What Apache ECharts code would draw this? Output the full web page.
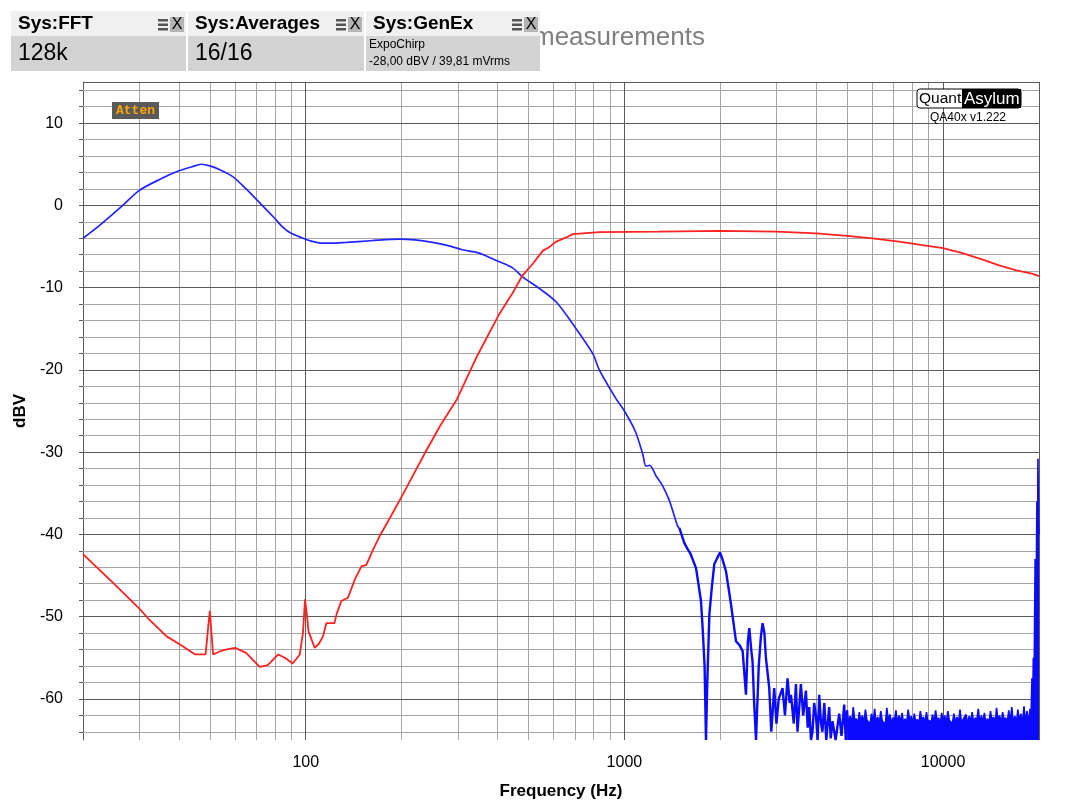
<!DOCTYPE html>
<html>
<head>
<meta charset="utf-8">
<script src="https://cdn.jsdelivr.net/npm/echarts@6/dist/echarts.min.js"></script>
<style>
html,body{margin:0;padding:0;background:#fff;}
#chartmain{width:1083px;height:812px;}
</style>
</head>
<body>
<div id="chartmain"></div>
<script>
// blue trace, smooth part (dBV vs Hz)
var blueFreq = [20,22.6,26.5,30,35,40,44,47,50,54,59,65,73,80,85,90,98,104,110,120,134,160,197,220,250,280,310,350,396,446,479,541,611,688,795,834,941,1000,1080,1141,1169,1200,1257,1318,1384,1469,1487];
var blueDb = [-4.0,-2.4,-0.1,1.8,3.2,4.2,4.7,5.0,4.8,4.3,3.5,2.0,0.0,-1.6,-2.7,-3.4,-4.0,-4.35,-4.55,-4.6,-4.5,-4.3,-4.1,-4.2,-4.5,-4.9,-5.4,-5.8,-6.7,-7.6,-8.7,-10.1,-11.75,-14.4,-18.0,-20.0,-23.5,-25.0,-27.4,-30.2,-31.7,-31.6,-32.9,-34.1,-35.9,-39.0,-39.2];
// blue trace, 1.5k - 5k
var blueHfFreq = [1487,1540,1579,1610,1678,1739,1760,1785,1803,1820,1848,1880,1915,1960,1995,2030,2084,2160,2240,2300,2350,2380,2407,2440,2466,2500,2525,2550,2588,
  2640,2680,2714,2750,2780,2848,2890,2952,3000,3050,3135,3190,3251,3300,3332,3400,3454,3493,3579,3640,3712,3760,3802,3850,3893,3940,3990,4040,4087,4140,4183,4240,4300,4391,4440,4498,4600,4721,4800,4895,4950,5000];
var blueHfDb = [-39.2,-41.0,-41.8,-42.3,-44.1,-48.1,-51.4,-56,-65,-58,-49.7,-46.5,-43.6,-42.8,-42.2,-43.0,-44.5,-48.5,-53.0,-53.5,-54.2,-57,-59.5,-53,-51.4,-54,-55.5,-60,-65,
  -56,-52.5,-50.8,-52,-55,-58.7,-64,-58.7,-63,-60,-58.7,-62,-57.5,-60.5,-59.5,-63,-58.2,-64,-58.2,-62,-59,-63.5,-61,-65,-64,-60.5,-62,-65,-59.5,-63,-64,-60.5,-65,-61,-64.8,-62.7,-65,-61.8,-64.5,-60.7,-65,-61.4];
// blue trace, noise floor 5k - 20k (upper edge of the dense band)
var noiseFreq = [5000,5055,5110,5170,5225,5285,5340,5400,5460,5520,5580,5645,5705,5770,5835,5900,5965,6030,6100,6165,
  6235,6305,6375,6445,6515,6590,6660,6735,6810,6885,6960,7040,7115,7195,7275,7355,7435,7520,7600,7685,
  7770,7860,7945,8035,8120,8210,8300,8395,8485,8580,8675,8770,8870,8965,9065,9165,9270,9370,9475,9580,
  9685,9795,9900,10010,10120,10235,10350,10465,10580,10695,10815,10935,11055,11180,11300,11425,11555,11680,11810,11940,
  12075,12205,12340,12480,12615,12755,12900,13040,13185,13330,13480,13625,13780,13930,14085,14240,14400,14560,14720,14880,
  15045,15215,15380,15550,15725,15895,16075,16250,16430,16615,16800,16985,17170,17360,17555,17750,17945,18145,18345,18550,
  18755,18880,19000,19100,19200,19300,19450,19550,19700,19780,19850,19930,20000];
var noiseDb = [-61.4,-62.9,-62.1,-63.0,-61.0,-62.7,-62.4,-63.1,-61.6,-62.8,-62.0,-63.0,-61.3,-62.6,-62.5,-63.0,-61.8,-62.9,-61.2,-63.0,
  -62.2,-63.0,-61.5,-62.7,-62.6,-63.1,-61.1,-62.8,-61.9,-63.0,-62.3,-62.6,-61.4,-63.0,-62.0,-62.9,-61.7,-63.0,-62.4,-63.0,
  -61.3,-62.7,-62.1,-63.1,-61.8,-62.8,-62.5,-63.0,-61.5,-62.6,-62.2,-63.0,-61.6,-62.9,-62.6,-63.0,-61.9,-63.0,-61.4,-62.7,
  -62.3,-63.1,-61.7,-62.8,-62.0,-63.0,-61.5,-62.6,-62.4,-63.0,-61.8,-62.9,-62.2,-63.0,-61.3,-63.0,-62.5,-62.7,-61.9,-63.1,
  -62.1,-62.8,-61.6,-63.0,-62.3,-62.6,-61.2,-63.0,-62.0,-62.9,-61.7,-63.0,-62.4,-63.0,-61.5,-62.7,-62.2,-63.1,-61.1,-62.8,
  -62.0,-63.0,-61.6,-62.6,-62.3,-63.0,-61.4,-62.9,-61.0,-63.0,-62.1,-63.0,-61.3,-62.7,-61.8,-63.1,-60.9,-62.8,-61.5,-63.0,
  -61.2,-62.4,-57.5,-61.0,-55.0,-58.0,-43.0,-52.0,-36.0,-44.0,-30.8,-38.0,-40.0];

// red trace
var redFreq = [20,25,30,32,36.6,40.3,45,48.5,49.5,50,50.6,51.2,53.2,56,60,65,71.7,76,82,86,91,95.8,98,99.5,101,102,106.7,110,113.3,116,123,125,129.3,135.7,142.5,149.5,155,162,170.6,185,202,220,239,265,297,343,405,450,479,516,555,582,611,657,688,740,834,1284,2000,3000,4000,5000,6000,7278,8500,10000,11500,13325,15000,17000,19000,20000];
var redDb = [-42.4,-46.0,-49.0,-50.2,-52.4,-53.4,-54.6,-54.6,-51,-49.3,-52,-54.6,-54.3,-54.0,-53.8,-54.4,-56.1,-55.9,-54.6,-55.0,-55.7,-54.6,-52,-47.9,-50,-51.8,-53.8,-53.3,-52.4,-50.8,-50.8,-49.7,-48.1,-47.7,-45.5,-43.9,-43.7,-42.0,-40.2,-37.8,-35.1,-32.4,-29.8,-26.7,-23.7,-18.5,-13.2,-10.4,-8.5,-7.1,-5.5,-5.05,-4.4,-3.9,-3.5,-3.4,-3.25,-3.2,-3.1,-3.2,-3.4,-3.7,-4.0,-4.4,-4.8,-5.2,-5.8,-6.6,-7.3,-7.9,-8.3,-8.6];

// axes / grid values
var xLabelTicks = [100, 1000, 10000];
var xGridMajor = [100, 1000, 10000];
var xGridMinor = [30,40,50,60,70,80,90,200,300,400,500,600,700,800,900,2000,3000,4000,5000,6000,7000,8000,9000];
var yLabelTicks = [-60,-50,-40,-30,-20,-10,0,10];
var yGridMinor = [-64,-62,-58,-56,-54,-52,-48,-46,-44,-42,-38,-36,-34,-32,-28,-26,-24,-22,-18,-16,-14,-12,-8,-6,-4,-2,2,4,6,8,12,14];
var yMin = -65, yMax = 15;

function zip(a, b) {
  var out = [];
  for (var i = 0; i < a.length; i++) out.push([a[i], b[i]]);
  return out;
}

var FONT = 'Liberation Sans, Arial, sans-serif';
var minorC = '#a6a6a6', majorC = '#5a5a5a';

var gridLines = [];
xGridMinor.forEach(function(v){ gridLines.push({xAxis: v, lineStyle: {color: minorC}}); });
yGridMinor.forEach(function(v){ gridLines.push({yAxis: v, lineStyle: {color: minorC}}); });
xGridMajor.forEach(function(v){ gridLines.push({xAxis: v, lineStyle: {color: majorC}}); });
yLabelTicks.forEach(function(v){ gridLines.push({yAxis: v, lineStyle: {color: majorC}}); });
// frame top / right
gridLines.push({yAxis: yMax, lineStyle: {color: majorC}});
gridLines.push({xAxis: 20000, lineStyle: {color: majorC}});

var myChart = echarts.init(document.getElementById('chartmain'));

function box(x, w, head, body) {
  var g = [
    {type: 'rect', shape: {x: x, y: 11, width: w, height: 25}, style: {fill: '#f0f0f0'}, z: 10},
    {type: 'rect', shape: {x: x, y: 36, width: w, height: 35}, style: {fill: '#d3d3d3'}, z: 10},
    {type: 'text', x: x + 7, y: 24, style: {text: head, font: 'bold 19px ' + FONT, fill: '#000', textVerticalAlign: 'middle'}, z: 11},
    {type: 'rect', shape: {x: x + w - 28, y: 19, width: 10, height: 2.5}, style: {fill: '#555'}, z: 11},
    {type: 'rect', shape: {x: x + w - 28, y: 23.5, width: 10, height: 2.5}, style: {fill: '#555'}, z: 11},
    {type: 'rect', shape: {x: x + w - 28, y: 28, width: 10, height: 2.5}, style: {fill: '#555'}, z: 11},
    {type: 'rect', shape: {x: x + w - 16, y: 17, width: 14, height: 15}, style: {fill: '#b4b4b4'}, z: 11},
    {type: 'text', x: x + w - 9, y: 25, style: {text: 'X', font: '16px ' + FONT, fill: '#000', textAlign: 'center', textVerticalAlign: 'middle'}, z: 12}
  ];
  return g.concat(body);
}

var graphics = [
  {type: 'text', x: 533, y: 38, style: {text: 'measurements', font: '26px ' + FONT, fill: '#808080', textVerticalAlign: 'middle'}, z: 5}
];
graphics = graphics.concat(box(11, 175, 'Sys:FFT', [
  {type: 'text', x: 18, y: 54, style: {text: '128k', font: '23px ' + FONT, fill: '#000', textVerticalAlign: 'middle'}, z: 11}
]));
graphics = graphics.concat(box(188, 176, 'Sys:Averages', [
  {type: 'text', x: 195, y: 54, style: {text: '16/16', font: '23px ' + FONT, fill: '#000', textVerticalAlign: 'middle'}, z: 11}
]));
graphics = graphics.concat(box(366, 174, 'Sys:GenEx', [
  {type: 'text', x: 369, y: 45, style: {text: 'ExpoChirp', font: '12px ' + FONT, fill: '#000', textVerticalAlign: 'middle'}, z: 11},
  {type: 'text', x: 369, y: 62, style: {text: '-28,00 dBV / 39,81 mVrms', font: '12px ' + FONT, fill: '#000', textVerticalAlign: 'middle'}, z: 11}
]));
graphics = graphics.concat([
  {type: 'rect', shape: {x: 112, y: 102, width: 47, height: 17}, style: {fill: '#5a5a5a'}, z: 10},
  {type: 'text', x: 135.5, y: 110.5, style: {text: 'Atten', font: 'bold 13px Liberation Mono, monospace', fill: '#ffa500', textAlign: 'center', textVerticalAlign: 'middle'}, z: 11},
  {type: 'rect', shape: {x: 917, y: 89, width: 104, height: 19, r: 3}, style: {fill: '#fff', stroke: '#000', lineWidth: 1}, z: 10},
  {type: 'rect', shape: {x: 962, y: 89, width: 59, height: 19}, style: {fill: '#000'}, z: 10},
  {type: 'text', x: 919, y: 99, style: {text: 'Quant', font: '15.5px ' + FONT, fill: '#000', textVerticalAlign: 'middle'}, z: 11},
  {type: 'text', x: 964, y: 99, style: {text: 'Asylum', font: '17px ' + FONT, fill: '#fff', textVerticalAlign: 'middle'}, z: 11},
  {type: 'text', x: 968, y: 118, style: {text: 'QA40x v1.222', font: '12px ' + FONT, fill: '#000', textAlign: 'center', textVerticalAlign: 'middle'}, z: 11}
]);

var options = {
  animation: false,
  backgroundColor: '#fff',
  grid: {left: 83, right: 44, top: 82, bottom: 72, outerBoundsMode: 'none'},
  graphic: graphics,
  xAxis: {
    type: 'log', logBase: 10, min: 20, max: 20000,
    name: 'Frequency (Hz)', nameLocation: 'middle', nameGap: 43,
    nameTextStyle: {fontFamily: FONT, fontSize: 17, fontWeight: 'bold', color: '#000'},
    axisLine: {show: true, lineStyle: {color: majorC, width: 1}},
    axisTick: {show: true, length: 4, inside: false, customValues: xGridMinor.concat(xGridMajor), lineStyle: {color: majorC}},
    axisLabel: {customValues: xLabelTicks, margin: 15, fontFamily: FONT, fontSize: 16, color: '#000',
      formatter: function(v){ return String(Math.round(v)); }},
    splitLine: {show: false}, minorSplitLine: {show: false}
  },
  yAxis: {
    type: 'value', min: yMin, max: yMax,
    name: 'dBV', nameLocation: 'middle', nameGap: 53,
    nameTextStyle: {fontFamily: FONT, fontSize: 17, fontWeight: 'bold', color: '#000'},
    axisLine: {show: true, lineStyle: {color: majorC, width: 1}},
    axisTick: {show: true, length: 4, inside: false, customValues: yGridMinor.concat(yLabelTicks), lineStyle: {color: majorC}},
    axisLabel: {customValues: yLabelTicks, margin: 20, fontFamily: FONT, fontSize: 16, color: '#000'},
    splitLine: {show: false}
  },
  series: [
    {
      name: 'grid', type: 'line', data: [], silent: true, z: 1,
      markLine: {silent: true, symbol: ['none', 'none'], label: {show: false}, z: 1, animation: false,
        lineStyle: {type: 'solid', width: 1}, emphasis: {disabled: true}, data: gridLines}
    },
    {
      name: 'ch1', type: 'line', data: zip(blueFreq, blueDb), showSymbol: false, z: 3, smooth: 0.3,
      lineStyle: {color: '#2424ff', width: 1.7}, itemStyle: {color: '#2424ff'}, clip: true
    },
    {
      name: 'ch1 hf', type: 'line', data: zip(blueHfFreq, blueHfDb), showSymbol: false, z: 3,
      lineStyle: {color: '#0a0aff', width: 2.4}, itemStyle: {color: '#0a0aff'}, clip: true
    },
    {
      name: 'ch1 floor', type: 'line', data: zip(noiseFreq, noiseDb), showSymbol: false, z: 3,
      sampling: 'none', areaStyle: {color: '#0a0aff', opacity: 1, origin: 'start'},
      lineStyle: {color: '#0a0aff', width: 1.6}, itemStyle: {color: '#0a0aff'}, clip: true
    },
    {
      name: 'ch2', type: 'line', data: zip(redFreq, redDb), showSymbol: false, z: 4,
      lineStyle: {color: '#ff2222', width: 1.8}, itemStyle: {color: '#ff2222'}, clip: true
    }
  ]
};
myChart.setOption(options);
</script>
</body>
</html>
